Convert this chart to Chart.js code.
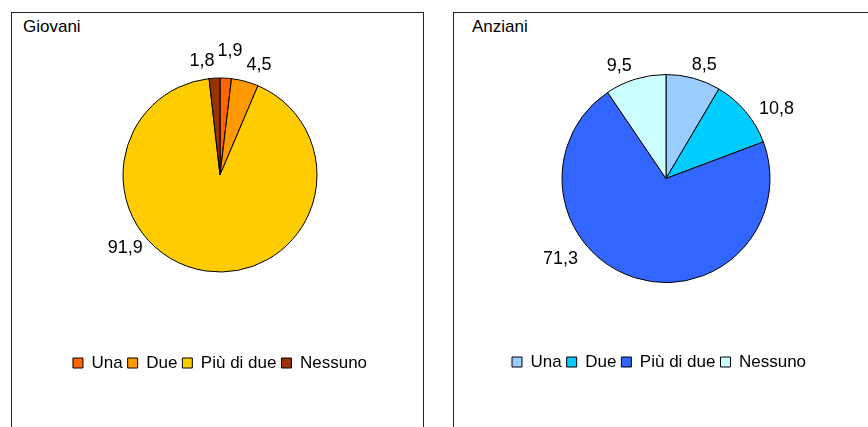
<!DOCTYPE html>
<html>
<head>
<meta charset="utf-8">
<script src="https://cdn.jsdelivr.net/npm/chart.js@4.4.1/dist/chart.umd.min.js"></script>
<style>
  html, body { margin: 0; padding: 0; background: #fff; width: 868px; height: 427px; overflow: hidden; position: relative; font-family: "Liberation Sans", Arial, sans-serif; }
  .panel { position: absolute; top: 12px; height: 500px; border: 1px solid #222; box-sizing: border-box; }
  #pGiovani { left: 11px; width: 413px; }
  #pAnziani { left: 453px; width: 500px; }
  .ttl { position: absolute; top: 18px; font-size: 17px; line-height: 17px; color: #000; }
  canvas { position: absolute; top: 0; }
</style>
</head>
<body>
<div class="panel" id="pGiovani"></div>
<div class="panel" id="pAnziani"></div>
<div class="ttl" style="left:23px">Giovani</div>
<div class="ttl" style="left:472px">Anziani</div>
<canvas id="cGiovani" width="440" height="427" style="left:0"></canvas>
<canvas id="cAnziani" width="428" height="427" style="left:440px"></canvas>
<script>
// dati
const categorie = ['Una', 'Due', 'Più di due', 'Nessuno'];
const giovani = [1.9, 4.5, 91.9, 1.8];
const anziani = [8.5, 10.8, 71.3, 9.5];

const coloriGiovani = ['#FF6600', '#FF9900', '#FFCC00', '#993300'];
const coloriAnziani = ['#99CCFF', '#00CCFF', '#3366FF', '#CCFFFF'];

const FONT = '"Liberation Sans", Arial, sans-serif';

// etichette dei valori fuori dalla torta
const etichette = {
  id: 'etichette',
  afterDatasetsDraw(chart, args, opts) {
    const ctx = chart.ctx;
    const meta = chart.getDatasetMeta(0);
    const valori = chart.data.datasets[0].data;
    ctx.save();
    ctx.font = '18px ' + FONT;
    ctx.fillStyle = '#000';
    ctx.textAlign = 'center';
    ctx.textBaseline = 'middle';
    meta.data.forEach((arc, i) => {
      const p = arc.getProps(['x', 'y', 'startAngle', 'endAngle', 'outerRadius'], true);
      const a = (p.startAngle + p.endAngle) / 2 + opts.nudge[i] * Math.PI / 180;
      const d = p.outerRadius + opts.gap[i];
      ctx.fillText(String(valori[i]).replace('.', ','), p.x + d * Math.cos(a), p.y + d * Math.sin(a) + 1);
    });
    ctx.restore();
  }
};

function torta(id, valori, colori, raggio, padding, allinea, lab) {
  return new Chart(document.getElementById(id), {
    type: 'pie',
    data: {
      labels: categorie,
      datasets: [{
        data: valori,
        backgroundColor: colori,
        borderColor: '#000',
        borderWidth: 1,
        radius: raggio
      }]
    },
    options: {
      responsive: false,
      animation: false,
      layout: { padding: padding },
      plugins: {
        tooltip: { enabled: false },
        legend: {
          position: 'bottom',
          align: allinea,
          labels: {
            boxWidth: 10,
            boxHeight: 10,
            padding: 5,
            color: '#000',
            font: { family: FONT, size: 17 }
          }
        },
        etichette: lab
      }
    },
    plugins: [etichette]
  });
}

torta('cGiovani', giovani, coloriGiovani, 97,
  { left: 20, right: 20, top: 0.5, bottom: 45.5 }, 'center',
  { nudge: [1.2, 4.4, 44.7, -5.7], gap: [28.4, 21.1, 21.8, 19.4] });

torta('cAnziani', anziani, coloriAnziani, 104,
  { left: 67, right: 43, top: 8.5, bottom: 46.5 }, 'start',
  { nudge: [3.2, 7.6, 35.4, -5.2], gap: [17, 26.8, 28, 19] });
</script>
</body>
</html>
